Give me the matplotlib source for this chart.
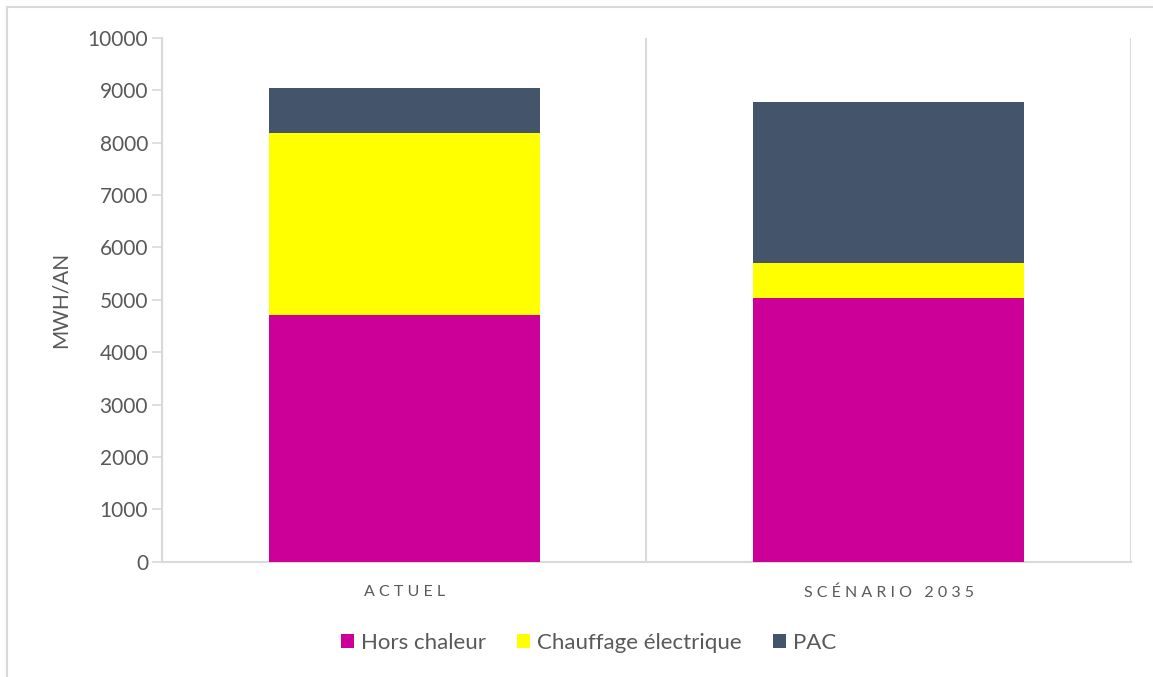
import matplotlib
matplotlib.use("Agg")
import matplotlib.pyplot as plt
import matplotlib.patches as mpatches
import numpy as np

plt.rcParams["font.family"] = ["Lato", "DejaVu Sans"]

# Consumption per scenario, MWh/an
categories = ["ACTUEL", "SCÉNARIO 2035"]
series_names = ["Hors chaleur", "Chauffage électrique", "PAC"]
hors_chaleur = [4714, 5032]
chauffage_elec = [3467, 668]
pac = [865, 3067]
series_values = [hors_chaleur, chauffage_elec, pac]
y_ticks = list(range(0, 10001, 1000))

colors = ["#CC0099", "#FFFF00", "#44546A"]
text_grey = "#595959"
line_grey = "#D9D9D9"

fig = plt.figure(figsize=(11.53, 6.77), dpi=100)
ax = fig.add_axes([0.1405, 0.1703, 0.8402, 0.774])

# outer chart frame
fig.patches.append(mpatches.Rectangle(
    (7 / 1153, -0.05), 1.2, 1 - 7 / 677 + 0.05, transform=fig.transFigure,
    fill=False, edgecolor=line_grey, linewidth=1.5, zorder=0))

x = np.arange(len(categories))
bottom = np.zeros(len(categories))
for name, vals, col in zip(series_names, series_values, colors):
    ax.bar(x, vals, width=0.559, bottom=bottom, color=col, label=name,
           edgecolor="none", zorder=3)
    bottom += np.array(vals)

ax.set_xlim(-0.5, len(categories) - 0.5)
ax.set_ylim(0, 10000)
ax.set_yticks(y_ticks)
ax.set_yticklabels([str(t) for t in y_ticks], fontsize=15, color=text_grey)

# vertical separators between categories
for xb in np.arange(-0.5, len(categories), 1.0):
    ax.axvline(xb, color=line_grey, linewidth=1.5, zorder=1)

ax.set_xticks(x)
ax.set_xticklabels([" ".join(c) for c in categories], fontsize=11.5,
                   color=text_grey)
ax.tick_params(axis="x", length=0, pad=17)
ax.tick_params(axis="y", length=7, width=1.2, color=line_grey, pad=3)

for side in ["top", "right"]:
    ax.spines[side].set_visible(False)
for side in ["left", "bottom"]:
    ax.spines[side].set_color(line_grey)
    ax.spines[side].set_linewidth(1.5)

ax.set_ylabel("MWH/AN", fontsize=15, color=text_grey, labelpad=12)

ax.legend(loc="center", bbox_to_anchor=(0.44, -0.155), ncol=3, frameon=False,
          fontsize=16, labelcolor=text_grey, handlelength=0.6,
          handleheight=0.6, handletextpad=0.3, columnspacing=1.4)

fig.savefig("out.png", dpi=100)
